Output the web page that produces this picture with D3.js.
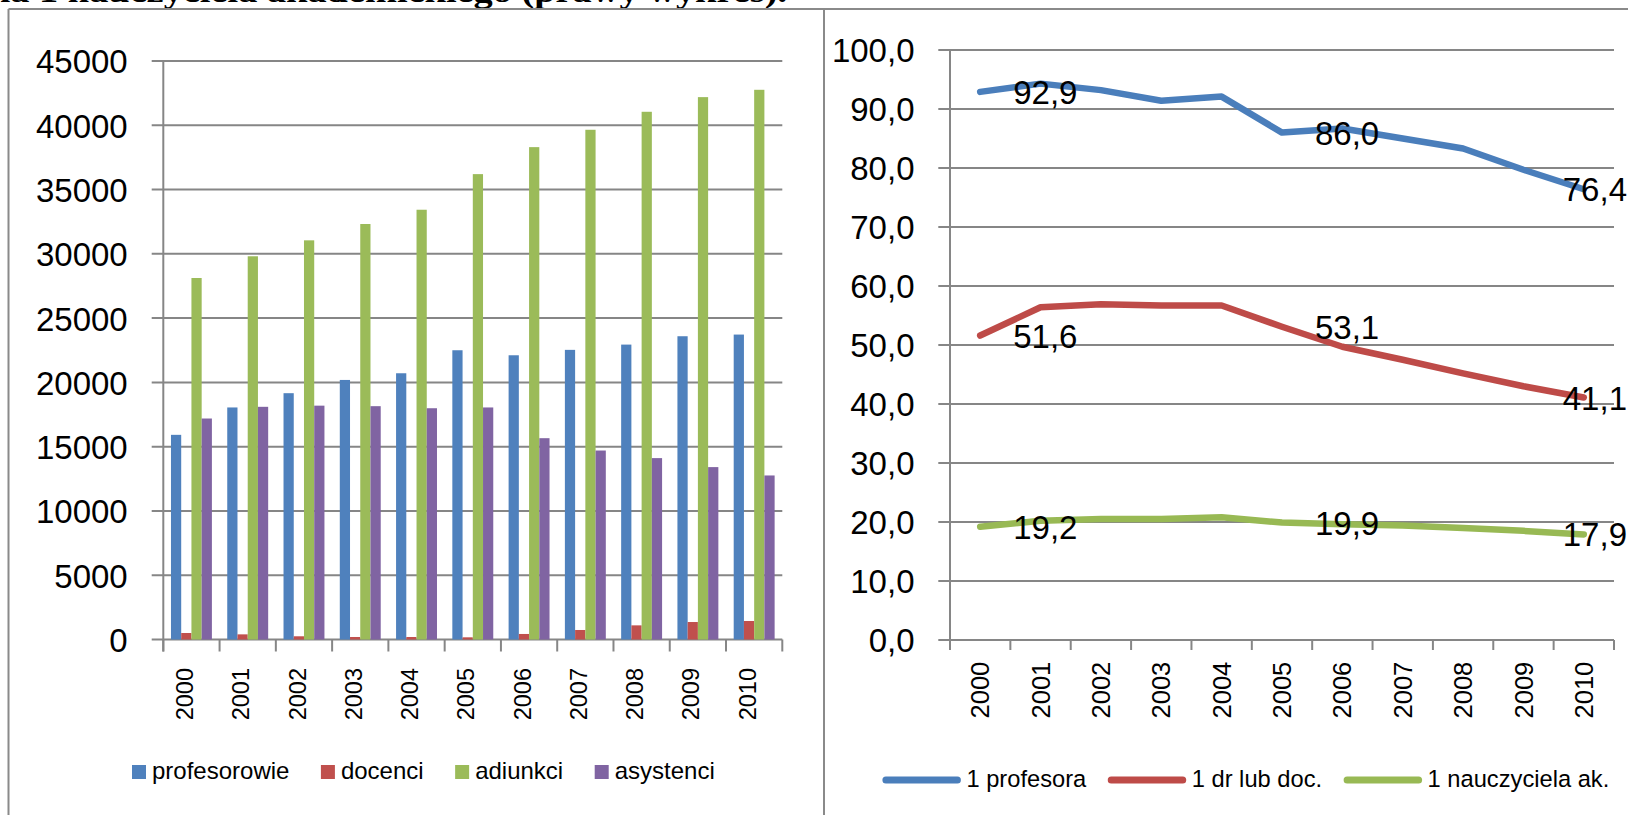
<!DOCTYPE html>
<html>
<head>
<meta charset="utf-8">
<script src="https://cdn.jsdelivr.net/npm/d3@7"></script>
<style>
  html, body { margin: 0; padding: 0; background: #ffffff; }
  svg { display: block; }
  text { font-family: "Liberation Sans", Arial, sans-serif; fill: #000; }
</style>
</head>
<body>
<script>
// ---------- DATA ----------
const years = ["2000","2001","2002","2003","2004","2005","2006","2007","2008","2009","2010"];

// left chart: number of academic teachers by position
const profesorowie = [15920, 18050, 19160, 20190, 20710, 22500, 22110, 22530, 22940, 23590, 23720];
const docenci      = [505, 400, 250, 195, 195, 170, 430, 740, 1100, 1360, 1440];
const adiunkci     = [28120, 29810, 31050, 32320, 33430, 36200, 38300, 39650, 41050, 42190, 42760];
const asystenci    = [17190, 18100, 18190, 18150, 17990, 18050, 15660, 14700, 14110, 13410, 12760];
const barSeriesNames  = ["profesorowie", "docenci", "adiunkci", "asystenci"];
const barSeriesColors = ["#4F81BD", "#C0504D", "#9BBB59", "#8064A2"];
const barTicks = [0, 5000, 10000, 15000, 20000, 25000, 30000, 35000, 40000, 45000];

// right chart: students per teacher
const naProfesora   = [92.9, 94.3, 93.2, 91.4, 92.1, 86.0, 86.7, 85.0, 83.3, 79.7, 76.4];
const naDrLubDoc    = [51.6, 56.4, 56.9, 56.7, 56.7, 53.1, 49.7, 47.5, 45.2, 43.0, 41.1];
const naNauczyciela = [19.2, 20.2, 20.5, 20.5, 20.8, 19.9, 19.6, 19.4, 19.0, 18.5, 17.9];
const lineSeriesNames  = ["1 profesora", "1 dr lub doc.", "1 nauczyciela ak."];
const lineSeriesColors = ["#4A7EBB", "#BE4B48", "#98B954"];
const lineTicks = [0, 10, 20, 30, 40, 50, 60, 70, 80, 90, 100];
const labelIndexes = [0, 5, 10];

const titleText = "na 1 nauczyciela akademickiego (prawy wykres).";

// ---------- SETUP ----------
const W = 1628, H = 815;
const grid = "#868686";
const svg = d3.select("body").append("svg").attr("width", W).attr("height", H);
svg.append("rect").attr("width", W).attr("height", H).attr("fill", "#fff");

// cut-off title at the very top
svg.append("text")
  .attr("x", -11).attr("y", 2)
  .attr("textLength", 798).attr("lengthAdjust", "spacingAndGlyphs")
  .style("font-family", "'Liberation Serif', 'Times New Roman', serif")
  .style("font-weight", "bold").style("font-size", "32px")
  .text(titleText);

// panel borders
const border = "#8a8a8a";
svg.append("line").attr("x1", 8.5).attr("x2", W).attr("y1", 9).attr("y2", 9).attr("stroke", border).attr("stroke-width", 2);
svg.append("line").attr("x1", 8.5).attr("x2", 8.5).attr("y1", 9).attr("y2", H).attr("stroke", border).attr("stroke-width", 2);
svg.append("line").attr("x1", 824).attr("x2", 824).attr("y1", 9).attr("y2", H).attr("stroke", border).attr("stroke-width", 2);

// ---------- LEFT: grouped bar chart ----------
const L = { left: 163.3, right: 782.3, top: 61, bottom: 639.5 };
const xL = d3.scaleBand().domain(years).range([L.left, L.right]).paddingInner(0).paddingOuter(0);
const yL = d3.scaleLinear().domain([0, 45000]).range([L.bottom, L.top]);
const xInner = d3.scaleBand().domain(barSeriesNames).range([0, xL.bandwidth()]).paddingInner(0).paddingOuter(0.75);
const barData = [profesorowie, docenci, adiunkci, asystenci];

const gL = svg.append("g");
// gridlines
gL.append("g").selectAll("line").data(barTicks).join("line")
  .attr("x1", L.left - 11.6).attr("x2", L.right)
  .attr("y1", d => yL(d)).attr("y2", d => yL(d))
  .attr("stroke", grid).attr("stroke-width", 2);

// y axis labels
const yAxisL = d3.axisLeft(yL).tickValues(barTicks).tickSize(0).tickPadding(35.6).tickFormat(d3.format("d"));
const yaL = gL.append("g").attr("transform", `translate(${L.left},0)`).call(yAxisL);
yaL.select(".domain").remove();
yaL.selectAll("text").style("font-size", "33px").style("font-family", "'Liberation Sans', Arial, sans-serif").attr("dy", "0.36em");

// vertical axis line
gL.append("line").attr("x1", L.left).attr("x2", L.left).attr("y1", L.top).attr("y2", L.bottom + 12)
  .attr("stroke", grid).attr("stroke-width", 2);
// x ticks
const xTickPosL = years.map(y => xL(y)).concat([L.right]);
gL.append("g").selectAll("line").data(xTickPosL).join("line")
  .attr("x1", d => d).attr("x2", d => d).attr("y1", L.bottom).attr("y2", L.bottom + 12)
  .attr("stroke", grid).attr("stroke-width", 2);

// bars
barSeriesNames.forEach((name, si) => {
  gL.append("g").selectAll("rect").data(barData[si]).join("rect")
    .attr("x", (d, i) => xL(years[i]) + xInner(name))
    .attr("width", xInner.bandwidth())
    .attr("y", d => yL(d))
    .attr("height", d => yL(0) - yL(d))
    .attr("fill", barSeriesColors[si]);
});

// x labels (rotated)
gL.append("g").selectAll("text").data(years).join("text")
  .attr("transform", d => `translate(${xL(d) + xL.bandwidth() / 2 + 1.6},668) rotate(-90)`)
  .attr("text-anchor", "end")
  .style("font-size", "23.5px")
  .text(d => d);

// legend left
{
  const lg = gL.append("g");
  let cx = 132;
  barSeriesNames.forEach((name, i) => {
    lg.append("rect").attr("x", cx).attr("y", 765).attr("width", 14).attr("height", 14).attr("fill", barSeriesColors[i]);
    const t = lg.append("text").attr("x", cx + 20).attr("y", 779).style("font-size", "24px").text(name);
    const w = t.node().getComputedTextLength();
    cx = cx + 20 + w + 31.5;
  });
}

// ---------- RIGHT: line chart ----------
const R = { left: 950, right: 1614, top: 50, bottom: 640 };
const xR = d3.scaleBand().domain(years).range([R.left, R.right]).paddingInner(0).paddingOuter(0);
const yR = d3.scaleLinear().domain([0, 100]).range([R.bottom, R.top]);
const comma = v => d3.format(".1f")(v).replace(".", ",");

const gR = svg.append("g");
gR.append("g").selectAll("line").data(lineTicks).join("line")
  .attr("x1", R.left - 11.7).attr("x2", R.right)
  .attr("y1", d => yR(d)).attr("y2", d => yR(d))
  .attr("stroke", grid).attr("stroke-width", 2);

const yAxisR = d3.axisLeft(yR).tickValues(lineTicks).tickSize(0).tickPadding(35.5).tickFormat(comma);
const yaR = gR.append("g").attr("transform", `translate(${R.left},0)`).call(yAxisR);
yaR.select(".domain").remove();
yaR.selectAll("text").style("font-size", "33px").style("font-family", "'Liberation Sans', Arial, sans-serif").attr("dy", "0.36em");

gR.append("line").attr("x1", R.left).attr("x2", R.left).attr("y1", R.top).attr("y2", R.bottom + 10)
  .attr("stroke", grid).attr("stroke-width", 2);
const xTickPosR = years.map(y => xR(y)).concat([R.right]);
gR.append("g").selectAll("line").data(xTickPosR).join("line")
  .attr("x1", d => d).attr("x2", d => d).attr("y1", R.bottom).attr("y2", R.bottom + 10)
  .attr("stroke", grid).attr("stroke-width", 2);

gR.append("g").selectAll("text").data(years).join("text")
  .attr("transform", d => `translate(${xR(d) + xR.bandwidth() / 2 + 9.1},661.7) rotate(-90)`)
  .attr("text-anchor", "end")
  .style("font-size", "25.5px")
  .text(d => d);

const lineData = [naProfesora, naDrLubDoc, naNauczyciela];
const px = i => xR(years[i]) + xR.bandwidth() / 2;
const lineGen = d3.line().x((d, i) => px(i)).y(d => yR(d));
lineData.forEach((arr, si) => {
  gR.append("path").datum(arr).attr("d", lineGen)
    .attr("fill", "none").attr("stroke", lineSeriesColors[si])
    .attr("stroke-width", 6.5).attr("stroke-linecap", "round").attr("stroke-linejoin", "round");
});

// data labels (Excel "right" position, kept inside chart area)
lineData.forEach((arr, si) => {
  labelIndexes.forEach(i => {
    const t = gR.append("text")
      .attr("x", px(i) + 33).attr("y", yR(arr[i]) + 12)
      .style("font-size", "33px").text(comma(arr[i]));
    const w = t.node().getComputedTextLength();
    if (px(i) + 33 + w > 1627) t.attr("x", 1627 - w);
  });
});

// legend right
{
  const lg = gR.append("g");
  let cx = 882.4;
  lineSeriesNames.forEach((name, i) => {
    lg.append("line").attr("x1", cx + 3.5).attr("x2", cx + 75).attr("y1", 780).attr("y2", 780)
      .attr("stroke", lineSeriesColors[i]).attr("stroke-width", 7).attr("stroke-linecap", "round");
    const t = lg.append("text").attr("x", cx + 84).attr("y", 787).style("font-size", "23.7px").text(name);
    const w = t.node().getComputedTextLength();
    cx = cx + 84 + w + 21.5;
  });
}
</script>
</body>
</html>
